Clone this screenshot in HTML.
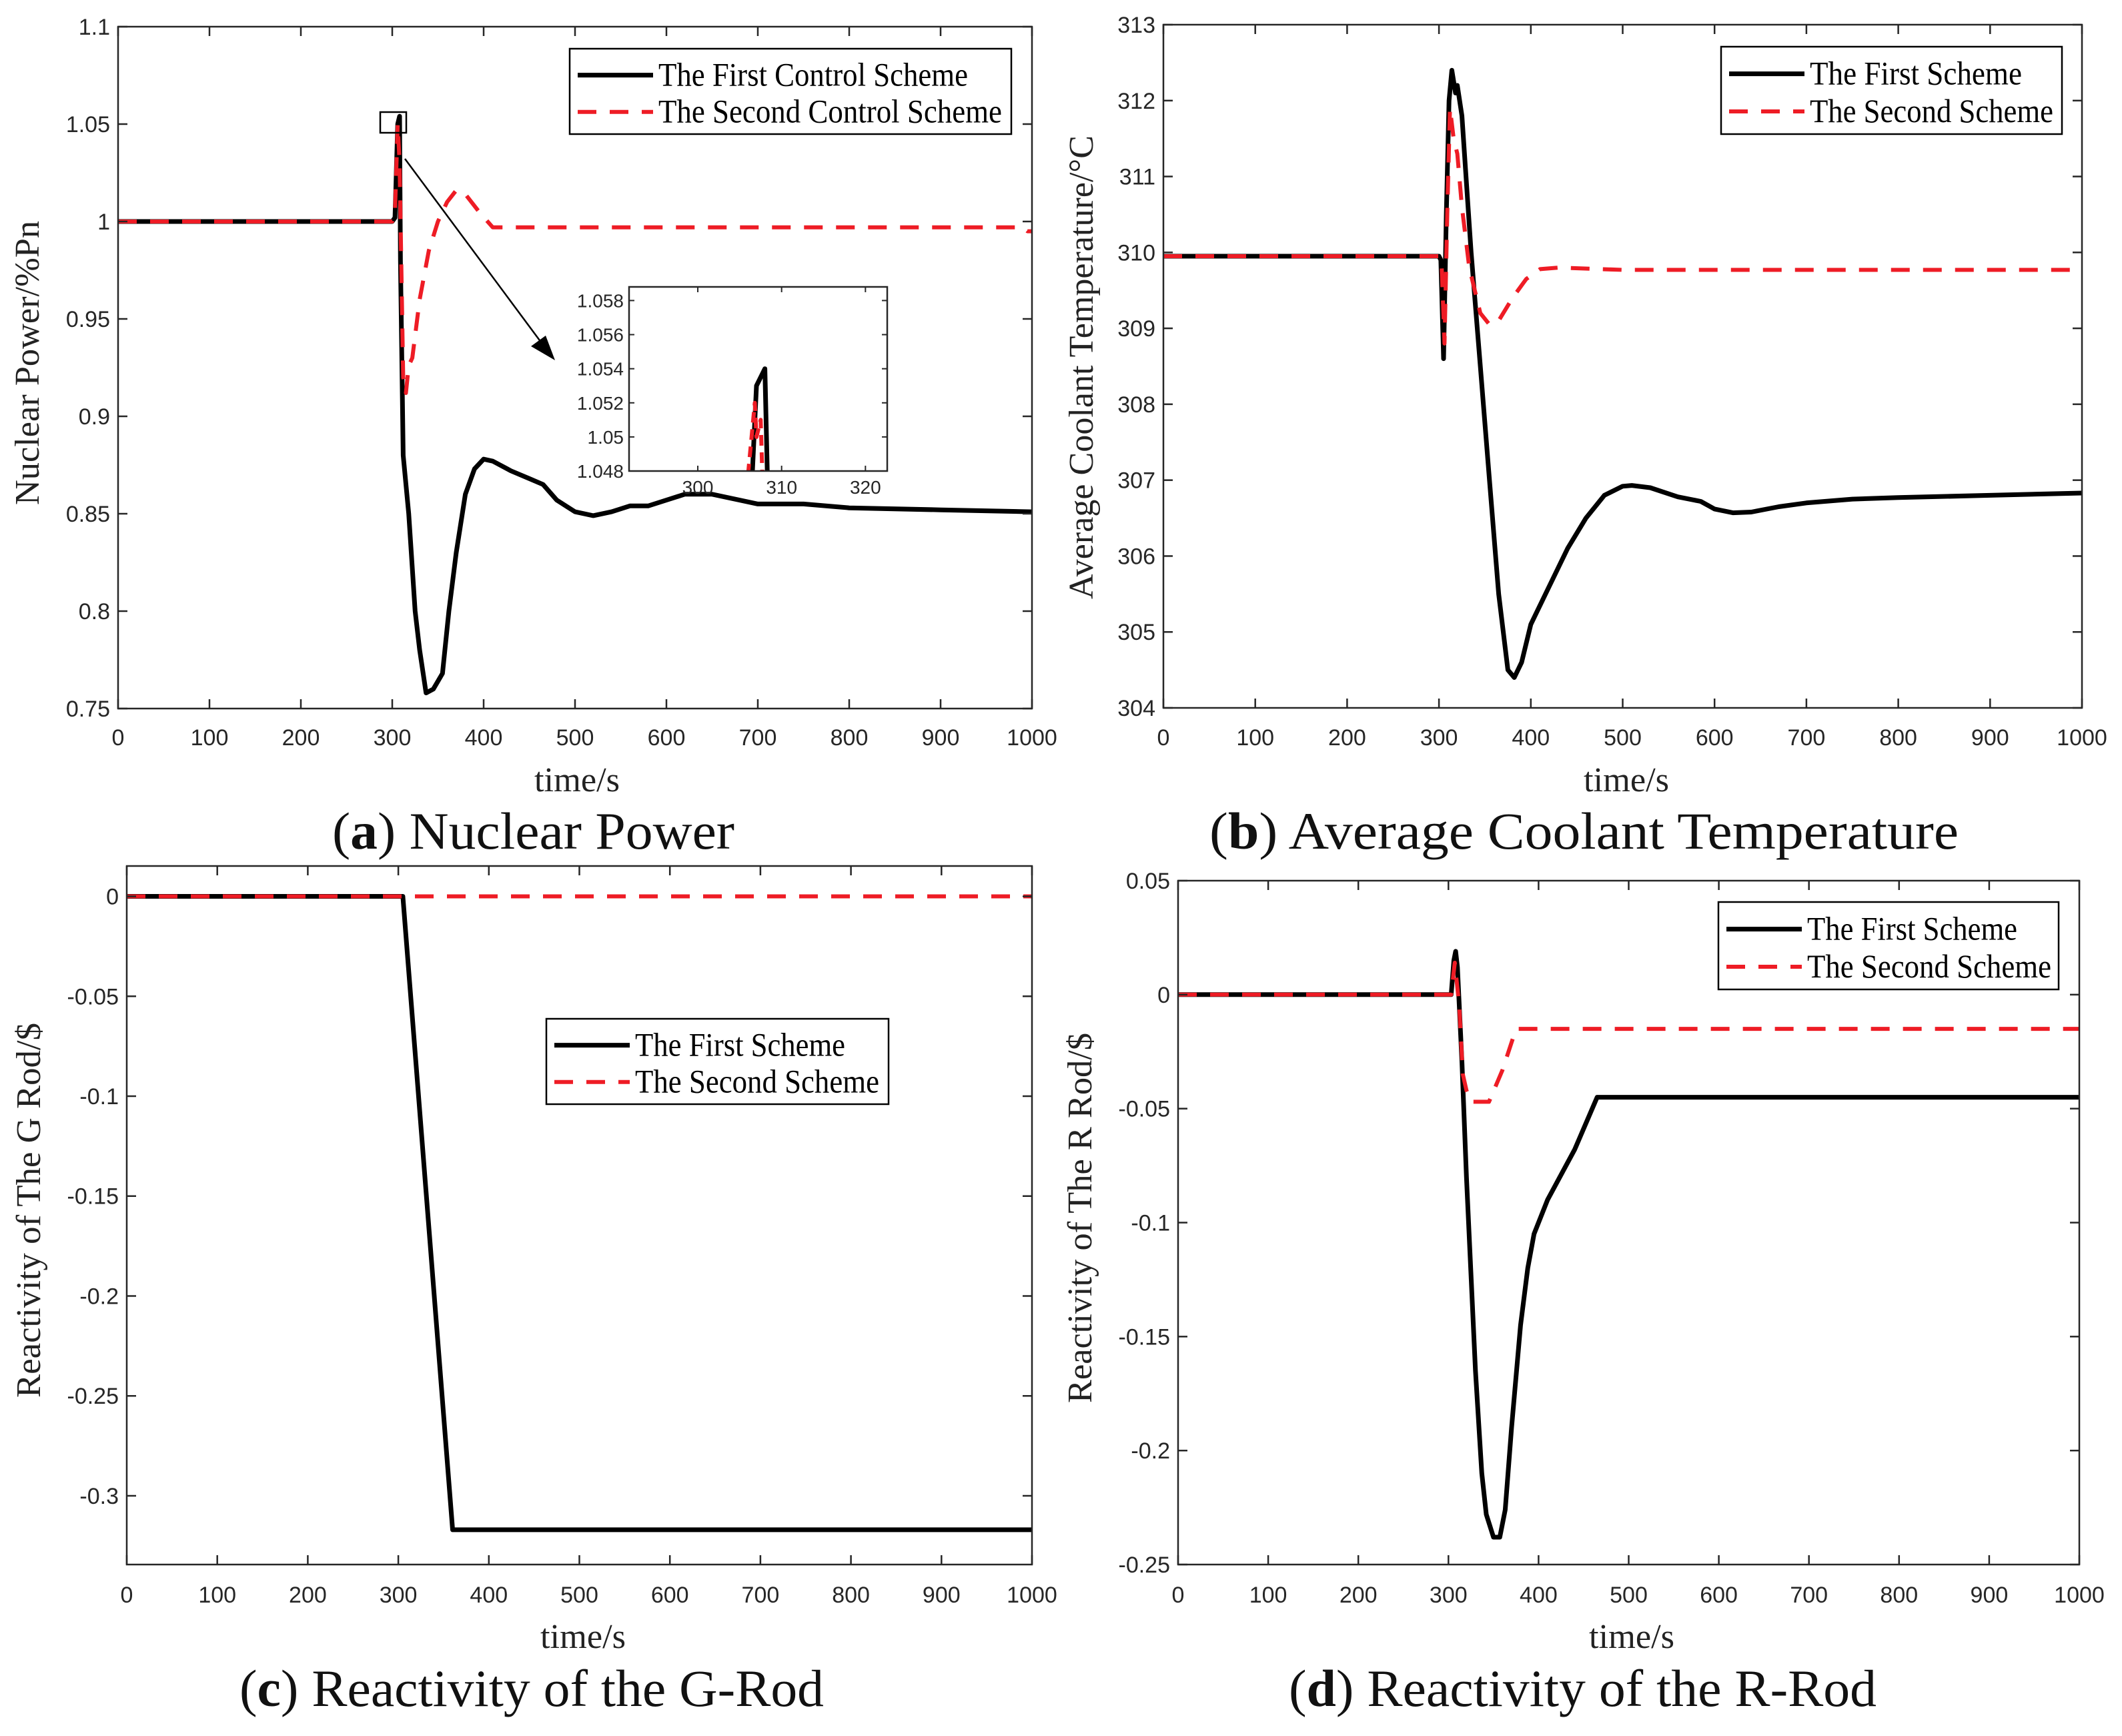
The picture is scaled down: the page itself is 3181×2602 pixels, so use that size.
<!DOCTYPE html>
<html><head><meta charset="utf-8"><style>
html,body{margin:0;padding:0;background:#fff}
svg{display:block}
</style></head><body>
<svg id="fig" xmlns="http://www.w3.org/2000/svg" width="3181" height="2602" viewBox="0 0 3181 2602">
<rect width="3181" height="2602" fill="#fff"/>
</svg>
<script>
// ---- data (x = time/s) ----
const xTicks = [0,100,200,300,400,500,600,700,800,900,1000];
// Panel a: nuclear power
const aTimeFirst = [0,300,303,306,308,309,312,318,325,330,337,345,355,362,370,380,390,400,410,430,450,465,480,500,520,540,560,580,600,620,650,680,700,750,800,900,1000];
const aValFirst = [1.0,1.0,1.002,1.05,1.054,0.98,0.88,0.85,0.80,0.78,0.758,0.760,0.768,0.80,0.83,0.86,0.873,0.878,0.877,0.872,0.868,0.865,0.857,0.851,0.849,0.851,0.854,0.854,0.857,0.86,0.86,0.857,0.855,0.855,0.853,0.852,0.851];
const aTimeSecond = [0,300,303,306,308,312,315,318,322,330,340,350,360,370,380,395,410,990,995,1000];
const aValSecond = [1.0,1.0,1.005,1.05,1.03,0.92,0.912,0.926,0.93,0.96,0.985,1.0,1.01,1.016,1.014,1.005,0.997,0.997,0.995,0.995];
const aYTicks = [0.75,0.8,0.85,0.9,0.95,1,1.05,1.1];
const aYLabels = ["0.75","0.8","0.85","0.9","0.95","1","1.05","1.1"];
// inset
const insTimeFirst = [306.5,307,308,308.3];
const insValFirst = [1.0478,1.053,1.054,1.0478];
const insTimeSecond = [306,306.8,307,307.5,307.7];
const insValSecond = [1.0478,1.052,1.05,1.051,1.0478];
const insXTicks = [300,310,320];
const insYTicks = [1.048,1.05,1.052,1.054,1.056,1.058];
const insYLabels = ["1.048","1.05","1.052","1.054","1.056","1.058"];
// Panel b: average coolant temperature
const bTimeFirst = [0,300,302,305,308,311,314,318,320,325,335,345,355,365,375,382,390,400,420,440,460,480,500,510,530,560,585,600,620,640,670,700,750,800,900,1000];
const bValFirst = [309.95,309.95,309.9,308.6,310.5,312,312.4,312.1,312.2,311.8,310,308.5,307,305.5,304.5,304.4,304.6,305.1,305.6,306.1,306.5,306.8,306.92,306.93,306.9,306.78,306.72,306.62,306.57,306.58,306.65,306.7,306.75,306.77,306.8,306.83];
const bTimeSecond = [0,300,303,306,309,312,316,320,325,333,345,355,365,380,395,410,430,500,1000];
const bValSecond = [309.95,309.95,309.8,308.8,310.5,311.9,311.5,311.3,310.6,309.8,309.2,309.05,309.1,309.4,309.65,309.78,309.8,309.77,309.77];
const bYTicks = [304,305,306,307,308,309,310,311,312,313];
// Panel c: G-rod reactivity
const cTimeFirst = [0,305,360,1000];
const cValFirst = [0,0,-0.317,-0.317];
const cTimeSecond = [0,1000];
const cValSecond = [0,0];
const cYTicks = [-0.3,-0.25,-0.2,-0.15,-0.1,-0.05,0];
// Panel d: R-rod reactivity
const dTimeFirst = [0,303,306,308,310,315,320,330,337,342,350,357,363,370,380,388,395,410,440,465,1000];
const dValFirst = [0,0,0.015,0.019,0.012,-0.03,-0.08,-0.165,-0.21,-0.228,-0.238,-0.238,-0.226,-0.19,-0.145,-0.12,-0.105,-0.09,-0.068,-0.045,-0.045];
const dTimeSecond = [0,303,307,312,316,320,325,345,360,375,1000];
const dValSecond = [0,0,0.014,-0.005,-0.035,-0.042,-0.047,-0.047,-0.033,-0.015,-0.015];
const dYTicks = [-0.25,-0.2,-0.15,-0.1,-0.05,0,0.05];

const NS = "http://www.w3.org/2000/svg";
const svg = document.getElementById('fig');
function el(tag, attrs, parent){
  const e = document.createElementNS(NS, tag);
  for (const k in attrs) e.setAttribute(k, attrs[k]);
  (parent||svg).appendChild(e);
  return e;
}
const AX = "#262626";
const TICKF = '"Liberation Sans", Arial, sans-serif';
const SERIF = '"Liberation Serif", "Times New Roman", serif';
const RED = "#ee1c25";
const DASH = "28 20";

function makeScale(d0,d1,r0,r1){ return v => r0 + (v-d0)/(d1-d0)*(r1-r0); }

function lineFromArrays(g, xs, ys, sx, sy, stroke, width, dash, name){
  let d = "";
  for (let i=0;i<xs.length;i++) d += (i?"L":"M") + sx(xs[i]).toFixed(1) + " " + sy(ys[i]).toFixed(1);
  const attrs = {d:d, fill:"none", stroke:stroke, "stroke-width":width, "stroke-linejoin":"round"};
  if (dash) attrs["stroke-dasharray"] = dash;
  const p = el('path', attrs, g);
  
  
  return p;
}

function panel(cfg){
  const g = el('g', {});
  
  
  const {L,R,T,B} = cfg;
  const sx = makeScale(cfg.xMin, cfg.xMax, L, R);
  const sy = makeScale(cfg.yMin, cfg.yMax, B, T);
  const clipId = cfg.name + "-clip";
  const cp = el('clipPath', {id:clipId}, g);
  el('rect', {x:L, y:T, width:R-L, height:B-T}, cp);
  const plot = el('g', {"clip-path":"url(#"+clipId+")"}, g);
  lineFromArrays(plot, cfg.t1, cfg.v1, sx, sy, "#000", 7, null, "first-scheme-line");
  lineFromArrays(plot, cfg.t2, cfg.v2, sx, sy, RED, 6, DASH, "second-scheme-line");
  const box = el('rect', {x:L, y:T, width:R-L, height:B-T, fill:"none", stroke:AX, "stroke-width":2.5}, g);
  
  
  const tl = 14;
  for (const t of xTicks){
    const x = sx(t);
    el('line', {x1:x, x2:x, y1:B, y2:B-tl, stroke:AX, "stroke-width":2.5}, g);
    el('line', {x1:x, x2:x, y1:T, y2:T+tl, stroke:AX, "stroke-width":2.5}, g);
    const lab = el('text', {x:x, y:cfg.xLabY, "text-anchor":"middle", "font-family":TICKF, "font-size":34, fill:AX}, g);
    lab.textContent = String(t);
    
    
  }
  cfg.yTicks.forEach((t,i)=>{
    const y = sy(t);
    el('line', {x1:L, x2:L+tl, y1:y, y2:y, stroke:AX, "stroke-width":2.5}, g);
    el('line', {x1:R, x2:R-tl, y1:y, y2:y, stroke:AX, "stroke-width":2.5}, g);
    const lab = el('text', {x:L-12, y:y+12, "text-anchor":"end", "font-family":TICKF, "font-size":34, fill:AX}, g);
    lab.textContent = cfg.yLabels ? cfg.yLabels[i] : String(t);
    
    
  });
  const xt = el('text', {x:cfg.xTitle[0], y:cfg.xTitle[1], "font-family":SERIF, "font-size":52, fill:"#222", textLength:cfg.xTitle[2], lengthAdjust:"spacingAndGlyphs"}, g);
  xt.textContent = "time/s";
  
  
  const yc = cfg.yTitle;
  const yt = el('text', {x:0, y:0, transform:`translate(${yc[0]},${yc[2]}) rotate(-90)`, "font-family":SERIF, "font-size":52, fill:"#222", textLength:yc[2]-yc[1], lengthAdjust:"spacingAndGlyphs"}, g);
  yt.textContent = cfg.yTitleText;
  
  
  const lg = cfg.legend;
  const leg = el('g', {}, g);
  
  
  el('rect', {x:lg.x0, y:lg.y0, width:lg.x1-lg.x0, height:lg.y1-lg.y0, fill:"#fff", stroke:"#000", "stroke-width":2.5}, leg);
  const h = lg.y1-lg.y0;
  const r1 = lg.y0 + h*0.31, r2 = lg.y0 + h*0.74;
  el('line', {x1:lg.x0+12, x2:lg.x0+125, y1:r1, y2:r1, stroke:"#000", "stroke-width":7}, leg);
  el('line', {x1:lg.x0+12, x2:lg.x0+125, y1:r2, y2:r2, stroke:RED, "stroke-width":6, "stroke-dasharray":DASH}, leg);
  const e1 = el('text', {x:lg.x0+133, y:r1+16, "font-family":SERIF, "font-size":50, fill:"#000", textLength:lg.w1, lengthAdjust:"spacingAndGlyphs"}, leg);
  e1.textContent = lg.t1;
  
  
  const e2 = el('text', {x:lg.x0+133, y:r2+16, "font-family":SERIF, "font-size":50, fill:"#000", textLength:lg.w2, lengthAdjust:"spacingAndGlyphs"}, leg);
  e2.textContent = lg.t2;
  
  
  const c = cfg.caption;
  const cap = el('text', {x:c[0], y:c[1], "font-family":SERIF, "font-size":78, fill:"#111", textLength:c[2], lengthAdjust:"spacingAndGlyphs"}, g);
  const t1 = el('tspan', {}, cap); t1.textContent = "(";
  const t2 = el('tspan', {"font-weight":"bold"}, cap); t2.textContent = c[3];
  const t3 = el('tspan', {}, cap); t3.textContent = ") " + c[4];
  
  
  return {g, sx, sy};
}

const pa = panel({name:"panel-a-nuclear-power", L:177, R:1547, T:40, B:1062, xMin:0, xMax:1000, yMin:0.75, yMax:1.1,
  t1:aTimeFirst, v1:aValFirst, t2:aTimeSecond, v2:aValSecond, yTicks:aYTicks, yLabels:aYLabels,
  xLabY:1117, xTitle:[801,1186,128], yTitle:[58,331,757], yTitleText:"Nuclear Power/%Pn",
  legend:{x0:854,y0:73,x1:1516,y1:201,t1:"The First Control Scheme",t2:"The Second Control Scheme",w1:464,w2:515},
  caption:[498,1272,603,"a","Nuclear Power"]});

panel({name:"panel-b-coolant-temperature", L:1744, R:3121, T:37, B:1061, xMin:0, xMax:1000, yMin:304, yMax:313,
  t1:bTimeFirst, v1:bValFirst, t2:bTimeSecond, v2:bValSecond, yTicks:bYTicks,
  xLabY:1117, xTitle:[2374,1186,128], yTitle:[1638,203,898], yTitleText:"Average Coolant Temperature/°C",
  legend:{x0:2580,y0:70,x1:3091,y1:201,t1:"The First Scheme",t2:"The Second Scheme",w1:318,w2:365},
  caption:[1813,1272,1123,"b","Average Coolant Temperature"]});

panel({name:"panel-c-g-rod-reactivity", L:190, R:1547, T:1298, B:2345, xMin:0, xMax:1000, yMin:-0.3344, yMax:0.0152,
  t1:cTimeFirst, v1:cValFirst, t2:cTimeSecond, v2:cValSecond, yTicks:cYTicks,
  xLabY:2402, xTitle:[810,2470,128], yTitle:[60,1533,2095], yTitleText:"Reactivity of The G Rod/$",
  legend:{x0:819,y0:1527,x1:1332,y1:1655,t1:"The First Scheme",t2:"The Second Scheme",w1:315,w2:366},
  caption:[359,2557,876,"c","Reactivity of the G-Rod"]});

panel({name:"panel-d-r-rod-reactivity", L:1766, R:3117, T:1320, B:2345, xMin:0, xMax:1000, yMin:-0.25, yMax:0.05,
  t1:dTimeFirst, v1:dValFirst, t2:dTimeSecond, v2:dValSecond, yTicks:dYTicks,
  xLabY:2402, xTitle:[2382,2470,128], yTitle:[1636,1548,2103], yTitleText:"Reactivity of The R Rod/$",
  legend:{x0:2576,y0:1352,x1:3086,y1:1483,t1:"The First Scheme",t2:"The Second Scheme",w1:315,w2:366},
  caption:[1932,2557,881,"d","Reactivity of the R-Rod"]});

(function(){
  const zb = el('rect', {x:570, y:168, width:39, height:31, fill:"none", stroke:"#000", "stroke-width":2.5});
  
  
  const ar = el('line', {x1:607, y1:238, x2:820, y2:525, stroke:"#000", "stroke-width":2.5});
  
  
  const ah = el('polygon', {points:"832,540 796,519 818,503", fill:"#000"});
  
  

  const L=943, R=1330, T=430, B=706;
  const g = el('g', {});
  
  
  el('rect', {x:L, y:T, width:R-L, height:B-T, fill:"#fff"}, g);
  const sx = makeScale(291.8, 322.6, L, R);
  const sy = makeScale(1.048, 1.0588, B, T);
  const cp = el('clipPath', {id:"inset-clip"}, g);
  el('rect', {x:L, y:T, width:R-L, height:B-T}, cp);
  const plot = el('g', {"clip-path":"url(#inset-clip)"}, g);
  lineFromArrays(plot, insTimeFirst, insValFirst, sx, sy, "#000", 7, null, "inset-first-line");
  lineFromArrays(plot, insTimeSecond, insValSecond, sx, sy, RED, 6, "16 10", "inset-second-line");
  el('rect', {x:L, y:T, width:R-L, height:B-T, fill:"none", stroke:AX, "stroke-width":2.5}, g);
  for (const t of insXTicks){
    const x = sx(t);
    el('line', {x1:x, x2:x, y1:B, y2:B-8, stroke:AX, "stroke-width":2}, g);
    el('line', {x1:x, x2:x, y1:T, y2:T+8, stroke:AX, "stroke-width":2}, g);
    const lab = el('text', {x:x, y:B+34, "text-anchor":"middle", "font-family":TICKF, "font-size":28, fill:AX}, g);
    lab.textContent = String(t);
    
    
  }
  insYTicks.forEach((t,i)=>{
    const y = sy(t);
    el('line', {x1:L, x2:L+8, y1:y, y2:y, stroke:AX, "stroke-width":2}, g);
    el('line', {x1:R, x2:R-8, y1:y, y2:y, stroke:AX, "stroke-width":2}, g);
    const lab = el('text', {x:L-8, y:y+10, "text-anchor":"end", "font-family":TICKF, "font-size":28, fill:AX}, g);
    lab.textContent = insYLabels[i];
    
    
  });
})();
</script>
</body></html>
